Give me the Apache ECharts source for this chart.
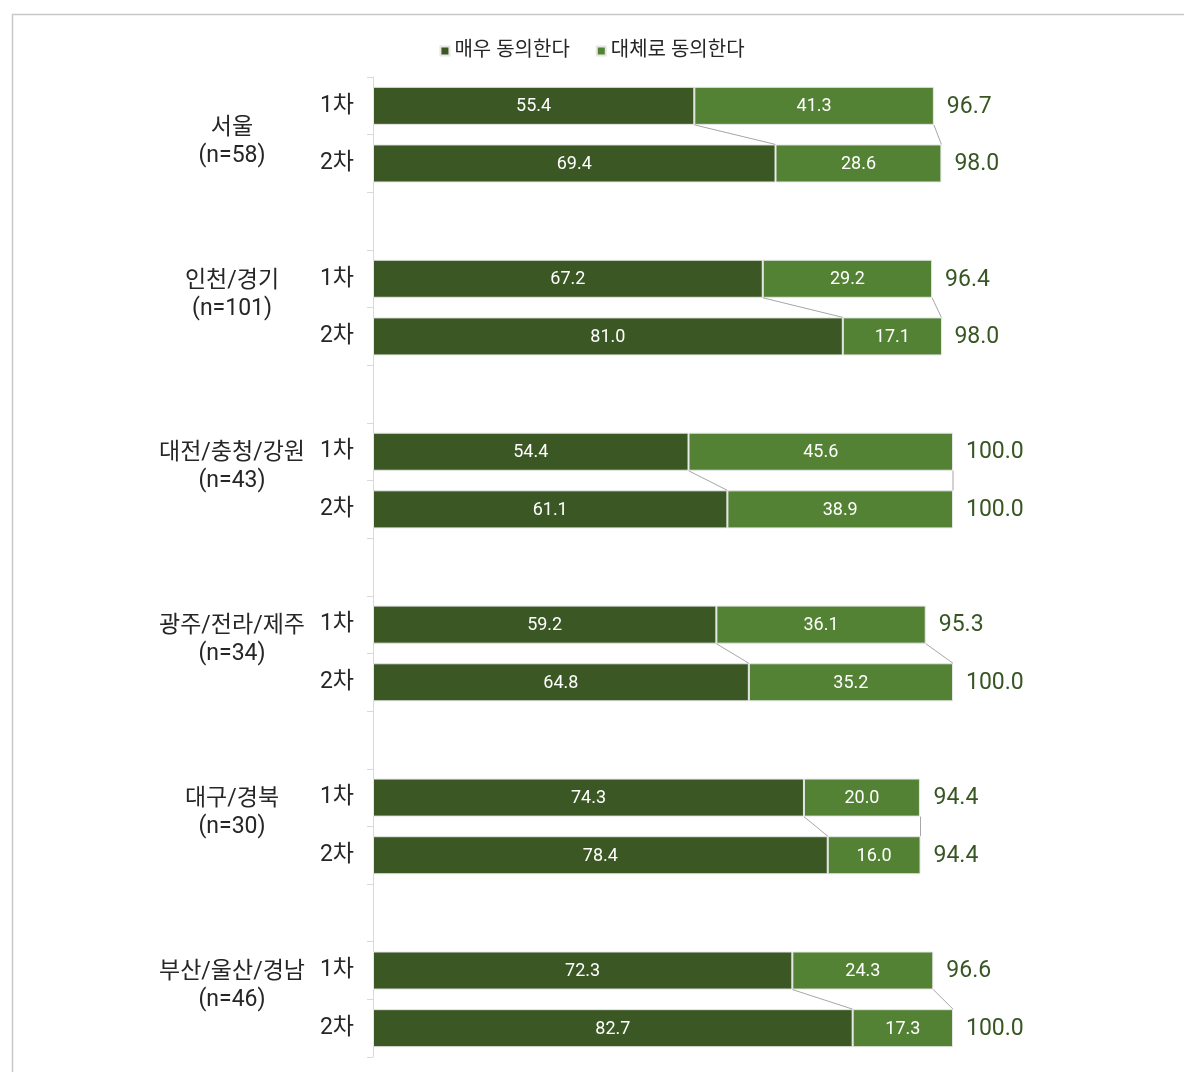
<!DOCTYPE html>
<html>
<head>
<meta charset="utf-8">
<script src="https://cdn.jsdelivr.net/npm/echarts@6/dist/echarts.min.js"></script>
<style>
html,body{margin:0;padding:0;background:#fff;}
#chart{width:1184px;height:1072px;}
</style>
</head>
<body>
<div id="chart"></div>
<script>
// Regions and sample sizes
const regions = ['서울', '인천/경기', '대전/충청/강원', '광주/전라/제주', '대구/경북', '부산/울산/경남'];
const sampleSizes = [58, 101, 43, 34, 30, 46];
const waves = ['1차', '2차'];
const seriesNames = ['매우 동의한다', '대체로 동의한다'];

// Wave 1 (1차)
const strong1 = [55.4, 67.2, 54.4, 59.2, 74.3, 72.3];
const mild1   = [41.3, 29.2, 45.6, 36.1, 20.0, 24.3];
const total1  = [96.7, 96.4, 100.0, 95.3, 94.4, 96.6];
// Wave 2 (2차)
const strong2 = [69.4, 81.0, 61.1, 64.8, 78.4, 82.7];
const mild2   = [28.6, 17.1, 38.9, 35.2, 16.0, 17.3];
const total2  = [98.0, 98.0, 100.0, 100.0, 94.4, 100.0];

const FONT = "Roboto, 'Noto Sans CJK KR', sans-serif";
const DARK = '#3a5724';
const LIGHT = '#548235';
const BAR_RATIO = 0.66;

// Each region takes three category slots: 1차, 2차 and an empty spacer
const cats = [];
const strongData = [];
const mildData = [];
regions.forEach((r, i) => {
  cats.push(waves[0]); strongData.push(strong1[i]); mildData.push(mild1[i]);
  cats.push(waves[1]); strongData.push(strong2[i]); mildData.push(mild2[i]);
  if (i < regions.length - 1) { cats.push(''); strongData.push('-'); mildData.push('-'); }
});

const overlayData = regions.map((r, i) => [0, 3 * i, i]);

function renderOverlay(params, api) {
  const g = api.value(2);
  const c1 = 3 * g, c2 = 3 * g + 1;
  const band = api.size([0, 1])[1];
  const half = band * BAR_RATIO / 2;
  const y1 = api.coord([0, c1])[1];
  const y2 = api.coord([0, c2])[1];
  const x0 = api.coord([0, c1])[0];
  const lineStyle = { stroke: '#a6a6a6', lineWidth: 1 };
  const children = [];
  // connectors between waves: end of "매우" segment and end of total
  [[strong1[g], strong2[g]], [total1[g], total2[g]]].forEach(([a, b]) => {
    const xa = api.coord([a, c1])[0];
    const xb = api.coord([b, c2])[0];
    children.push({ type: 'line', shape: { x1: xa, y1: y1 + half, x2: xb, y2: y2 - half }, style: lineStyle, z2: 5 });
  });
  // total labels
  [[total1[g], c1, y1], [total2[g], c2, y2]].forEach(([t, c, y]) => {
    const xt = api.coord([t, c])[0];
    children.push({
      type: 'text',
      style: { x: xt + 13, y: y + 1, text: t.toFixed(1), fill: '#375623', font: '23px ' + FONT, textAlign: 'left', textVerticalAlign: 'middle' }
    });
  });
  // region label, two lines, left of the wave labels
  const mid = (y1 + y2) / 2;
  const ly = g === 0 ? mid + band * 0.12 : mid - band * 0.24;
  children.push({
    type: 'text',
    style: {
      x: x0 - 141, y: ly + 1,
      text: regions[g] + '\n(n=' + sampleSizes[g] + ')',
      fill: '#262626', font: '23px ' + FONT, lineHeight: 28,
      textAlign: 'center', textVerticalAlign: 'middle'
    }
  });
  return { type: 'group', children: children };
}

const chart = echarts.init(document.getElementById('chart'));
chart.setOption({
  animation: false,
  textStyle: { fontFamily: FONT },
  graphic: [{
    type: 'rect', left: 10, top: 12,
    shape: { width: 1300, height: 1200 },
    style: { fill: 'none', stroke: '#c8c8c8', lineWidth: 1.5 }, z: -10
  }],
  legend: {
    top: 36, left: 'center',
    icon: 'rect', itemWidth: 9, itemHeight: 9, itemGap: 26,
    textStyle: { fontSize: 20, color: '#262626', fontFamily: FONT },
    data: seriesNames
  },
  grid: { left: 373, top: 77, width: 580, bottom: 15, containLabel: false },
  xAxis: { type: 'value', min: 0, max: 100, show: false },
  yAxis: {
    type: 'category', inverse: true, data: cats,
    axisLine: { show: true, lineStyle: { color: '#d9d9d9', width: 1 } },
    axisTick: { show: true, interval: 0, length: 6, lineStyle: { color: '#d9d9d9' } },
    axisLabel: { interval: 0, margin: 19, fontSize: 23, color: '#262626', fontFamily: FONT },
    splitLine: { show: false }
  },
  series: [
    {
      name: seriesNames[0], type: 'bar', stack: 'all', data: strongData,
      barWidth: (BAR_RATIO * 100) + '%',
      itemStyle: { color: DARK, borderColor: '#e6e6e6', borderWidth: 1 },
      label: { show: true, position: 'inside', offset: [0, 1], color: '#ffffff', fontSize: 18, fontFamily: FONT, formatter: p => p.value.toFixed(1) }
    },
    {
      name: seriesNames[1], type: 'bar', stack: 'all', data: mildData,
      barWidth: (BAR_RATIO * 100) + '%',
      itemStyle: { color: LIGHT, borderColor: '#e6e6e6', borderWidth: 1 },
      label: { show: true, position: 'inside', offset: [0, 1], color: '#ffffff', fontSize: 18, fontFamily: FONT, formatter: p => p.value.toFixed(1) }
    },
    {
      type: 'custom', renderItem: renderOverlay, data: overlayData,
      encode: { x: 0, y: 1 }, clip: false, z: 5, silent: true
    }
  ]
});
</script>
</body>
</html>
